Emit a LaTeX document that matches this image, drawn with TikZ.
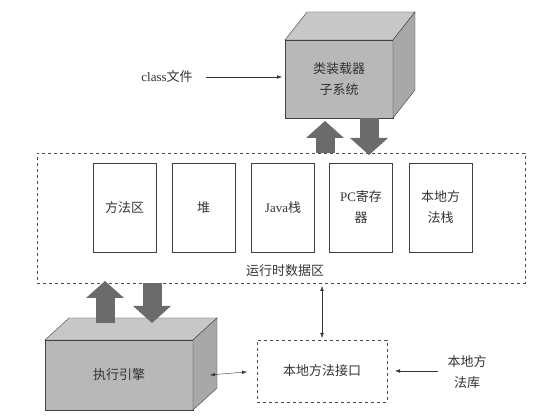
\documentclass[tikz,border=0pt]{standalone}
\usepackage{fontspec}
\setmainfont{Liberation Serif}
\newfontfamily\cjk{Noto Sans CJK SC}
\usetikzlibrary{arrows.meta}

\tikzset{
    txt/.style={font=\cjk\fontsize{13}{21}\selectfont, align=center, text=black!80},
    cube/.style={txt, draw=black!75, fill=black!28, outer sep=0pt},
    cubetop/.style={draw=black!75, fill=black!22},
    cubeside/.style={draw=black!75, fill=black!34},
    area/.style={txt, draw=black!70, dashed, outer sep=0pt},
    part/.style={txt, draw=black!75, minimum width=63pt, minimum height=89pt, outer sep=0pt},
    link/.style={draw=black!80, -{Latex[length=5pt,width=3.5pt]}},
    dlink/.style={draw=black!80, {Latex[length=5pt,width=3.5pt]}-{Latex[length=5pt,width=3.5pt]}},
    fat/.style={line width=19pt, draw=black!58, -{Triangle[length=17pt,width=38pt,line width=0pt]}}
}

\begin{document}
\begin{tikzpicture}[x=1pt, y=-1pt]
    \useasboundingbox (0,0) rectangle (552,419);
    % class loader
    \node [cube, minimum width=108pt, minimum height=78pt] (loader) at (339,79) {类装载器\\子系统};
    \filldraw [cubetop] (loader.north west) -- ([shift={(22,-28)}]loader.north west)
        -- ([shift={(22,-28)}]loader.north east) -- (loader.north east) -- cycle;
    \filldraw [cubeside] (loader.north east) -- ([shift={(22,-28)}]loader.north east)
        -- ([shift={(22,-28)}]loader.south east) -- (loader.south east) -- cycle;
    \node [txt] (classfile) at (167,77) {{\rmfamily class}文件};

    % runtime data area
    \node [area, minimum width=488pt, minimum height=130pt] (runtime) at (281,218) {};
    \node [txt] (rtlabel) at (285,271) {运行时数据区};
    \node [part] (method) at (124.5,207.5) {方法区};
    \node [part] (heap) at (203.5,207.5) {堆};
    \node [part] (jstack) at (283,207.5) {{\rmfamily Java}栈};
    \node [part] (pcreg) at (361,207.5) {{\rmfamily PC}寄存\\器};
    \node [part] (nstack) at (440.5,207.5) {本地方\\法栈};

    % execution engine
    \node [cube, minimum width=148pt, minimum height=70pt] (engine) at (119,375) {执行引擎};
    \filldraw [cubetop] (engine.north west) -- ([shift={(24,-22)}]engine.north west)
        -- ([shift={(24,-22)}]engine.north east) -- (engine.north east) -- cycle;
    \filldraw [cubeside] (engine.north east) -- ([shift={(24,-22)}]engine.north east)
        -- ([shift={(24,-22)}]engine.south east) -- (engine.south east) -- cycle;

    % native interface and library
    \node [area, minimum width=130pt, minimum height=62pt] (native) at (322,371) {本地方法接口};
    \node [txt] (nlib) at (467,372) {本地方\\法库};

    % connectors
    \draw [link, shorten <=10pt, shorten >=3pt] (classfile.east) -- (classfile.east -| loader.west);
    \draw [fat] ([xshift=-14pt]loader.south |- runtime.north) -- ([xshift=-14pt,yshift=-3pt]loader.south);
    \draw [fat, shorten >=-2pt] ([xshift=30pt]loader.south) -- ([xshift=30pt]loader.south |- runtime.north);
    \draw [fat, shorten >=-2pt] ([xshift=-14pt,yshift=17pt]engine.north) -- ([xshift=-14pt]engine.north |- runtime.south);
    \draw [fat] ([xshift=33pt]engine.north |- runtime.south) -- ([xshift=33pt,yshift=17pt]engine.north);
    \draw [dlink, shorten <=2pt, shorten >=3pt] (native.north) -- (native.north |- runtime.south);
    \draw [dlink, shorten >=10pt] ([xshift=17pt]engine.east) -- (native.west);
    \draw [link, shorten <=6pt, shorten >=8pt] (nlib.west |- native.east) -- (native.east);
\end{tikzpicture}
\end{document}
